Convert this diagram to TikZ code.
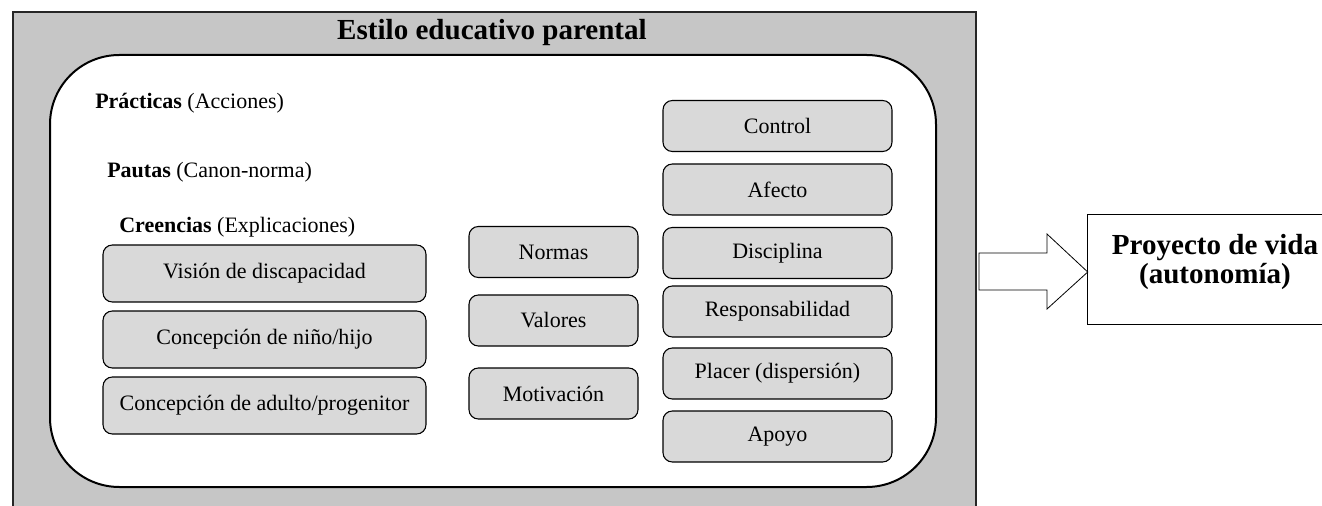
\documentclass[tikz,border=0pt]{standalone}
\usepackage{fontspec}
\setmainfont{Liberation Serif}
\usetikzlibrary{fit}
\definecolor{outergray}{HTML}{C6C6C6}
\definecolor{boxgray}{HTML}{D9D9D9}
\begin{document}
\begin{tikzpicture}[x=0.75pt,y=-0.75pt,
  itembox/.style={draw=black, line width=0.8pt, fill=boxgray, rounded corners=7pt,
    inner sep=0pt, font=\fontsize{16.5}{19}\selectfont},
  rightbox/.style={itembox, minimum width=171.75pt, minimum height=38.25pt},
  midbox/.style={itembox, minimum width=126.75pt, minimum height=38.25pt},
  leftbox/.style={itembox, minimum width=242.25pt, minimum height=42.75pt},
  lbl/.style={anchor=west, inner sep=0pt, font=\fontsize{16.5}{19}\selectfont},
  bigtitle/.style={inner sep=0pt, font=\fontsize{21.8}{24}\selectfont\bfseries}]
\useasboundingbox (0,0) rectangle (1322,506);
% outer gray frame
\fill[outergray] (13,12) rectangle (976,506);
\draw[line width=0.8pt, black!85] (13,506) -- (13,12) -- (976,12) -- (976,506);
\node[bigtitle] (title) at (492,33) {Estilo educativo parental};
% inner white rounded area
\draw[line width=1.5pt, fill=white, rounded corners=52pt] (50,55) rectangle (936,487);
% labels
\node[lbl] (prac) at (95,103) {\textbf{Prácticas} (Acciones)};
\node[lbl] (paut) at (107,172) {\textbf{Pautas} (Canon-norma)};
\node[lbl] (cree) at (119,227) {\textbf{Creencias} (Explicaciones)};
% left column
\node[leftbox] (vision) at (264.5,273.5) {Visión de discapacidad};
\node[leftbox] (nino) at (264.5,339.5) {Concepción de niño/hijo};
\node[leftbox] (adulto) at (264.5,405.5) {Concepción de adulto/progenitor};
% middle column
\node[midbox] (normas) at (553.5,252) {Normas};
\node[midbox] (valores) at (553.5,320.5) {Valores};
\node[midbox] (motiv) at (553.5,393.5) {Motivación};
% right column
\node[rightbox] (control) at (777.5,126) {Control};
\node[rightbox] (afecto) at (777.5,189.5) {Afecto};
\node[rightbox] (disc) at (777.5,253) {Disciplina};
\node[rightbox] (resp) at (777.5,311.5) {Responsabilidad};
\node[rightbox] (placer) at (777.5,373.5) {Placer (dispersión)};
\node[rightbox] (apoyo) at (777.5,436.5) {Apoyo};
% project box (runs past the right edge of the picture)
\node[inner sep=0pt, fit={(1088,215) (1322,324)}] (proy) {};
\draw[line width=0.8pt] (proy.north east) -- (proy.north west) -- (proy.south west) -- (proy.south east);
\node[align=center, inner sep=0pt, font=\fontsize{21.8}{21.5}\selectfont\bfseries] (proytext) at (1215,262)
  {Proyecto de vida\\(autonomía)};
% block arrow
\draw[line width=0.6pt, fill=white] (979,253) -- (1047,253) -- (1047,234) -- (proy.west |- 0,272)
  -- (1047,309) -- (1047,290) -- (979,290) -- cycle;
\end{tikzpicture}
\end{document}
